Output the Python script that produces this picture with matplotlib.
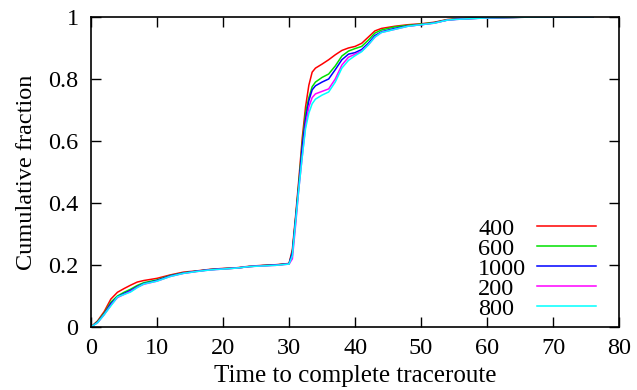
import matplotlib
matplotlib.use("Agg")
import matplotlib.pyplot as plt

x = [0, 1, 2, 3, 4, 5, 6, 7, 8, 10, 12, 14, 16, 18, 20, 22, 24, 26, 28, 30,
     30.5, 31, 31.5, 32, 32.5, 33, 33.5, 34, 35, 36, 37, 38, 39, 40, 41, 42,
     43, 44, 46, 48, 50, 52, 54, 56, 60, 65, 70, 76]

labels = ["400", "600", "1000", "200", "800"]
colors = ["#ff0000", "#00e000", "#0000ff", "#ff00ff", "#00ffff"]

s400 = [0, 0.02, 0.05, 0.09, 0.112, 0.124, 0.135, 0.145, 0.15,
        0.157, 0.168, 0.177, 0.181, 0.186, 0.189, 0.191, 0.196, 0.199, 0.201, 0.205,
        0.25, 0.36, 0.48, 0.61, 0.71, 0.78, 0.822, 0.835,
        0.848, 0.862, 0.878, 0.892, 0.9, 0.905, 0.915, 0.935, 0.955, 0.963,
        0.97, 0.975, 0.978, 0.983, 0.992, 0.995, 0.997, 0.999, 1.0, 1.0]
s600 = [0, 0.018, 0.045, 0.08, 0.1, 0.112, 0.122, 0.134, 0.143,
        0.152, 0.166, 0.175, 0.18, 0.185, 0.188, 0.19, 0.195, 0.198, 0.2, 0.204,
        0.24, 0.35, 0.47, 0.59, 0.69, 0.74, 0.775, 0.79,
        0.805, 0.816, 0.842, 0.874, 0.89, 0.898, 0.905, 0.925, 0.948, 0.958,
        0.968, 0.973, 0.977, 0.982, 0.991, 0.994, 0.997, 0.999, 1.0, 1.0]
s1000 = [0, 0.016, 0.042, 0.075, 0.097, 0.108, 0.118, 0.13, 0.14,
         0.15, 0.165, 0.174, 0.18, 0.185, 0.188, 0.19, 0.195, 0.198, 0.2, 0.204,
         0.24, 0.35, 0.46, 0.58, 0.67, 0.73, 0.765, 0.778,
         0.79, 0.8, 0.83, 0.862, 0.88, 0.885, 0.895, 0.915, 0.94, 0.952,
         0.963, 0.971, 0.975, 0.981, 0.99, 0.994, 0.997, 0.999, 1.0, 1.0]
s200 = [0, 0.014, 0.04, 0.07, 0.095, 0.105, 0.115, 0.128, 0.138,
        0.148, 0.163, 0.173, 0.179, 0.184, 0.187, 0.19, 0.195, 0.197, 0.199, 0.203,
        0.22, 0.33, 0.45, 0.55, 0.65, 0.71, 0.74, 0.752,
        0.76, 0.768, 0.8, 0.845, 0.87, 0.88, 0.89, 0.91, 0.935, 0.95,
        0.96, 0.97, 0.975, 0.98, 0.99, 0.993, 0.997, 0.999, 1.0, 1.0]
s800 = [0, 0.014, 0.04, 0.068, 0.097, 0.105, 0.113, 0.127, 0.139,
        0.148, 0.163, 0.173, 0.179, 0.184, 0.187, 0.19, 0.195, 0.197, 0.199, 0.203,
        0.23, 0.34, 0.45, 0.55, 0.64, 0.69, 0.72, 0.735,
        0.748, 0.758, 0.79, 0.835, 0.86, 0.875, 0.888, 0.91, 0.935, 0.95,
        0.96, 0.97, 0.975, 0.98, 0.99, 0.993, 0.997, 0.999, 1.0, 1.0]
series = [s400, s600, s1000, s200, s800]

xticks = [0, 10, 20, 30, 40, 50, 60, 70, 80]
yticks = [0, 0.2, 0.4, 0.6, 0.8, 1]
yticklabels = ["0", "0.2", "0.4", "0.6", "0.8", "1"]

plt.rcParams["font.family"] = ["Liberation Serif", "DejaVu Serif"]
plt.rcParams["font.size"] = 17.5

fig = plt.figure(figsize=(6.37, 3.9), dpi=100)
ax = fig.add_axes([0.1429, 0.1615, 0.829, 0.795])

for lab, col, ys in zip(labels, colors, series):
    ax.plot(x, ys, color=col, lw=1.1, label=lab)

ax.set_xlim(0, 80)
ax.set_ylim(0, 1)
ax.set_xticks(xticks)
ax.set_yticks(yticks)
ax.set_yticklabels(yticklabels)
ax.tick_params(direction="in", length=7, width=1, top=True, right=True)
ax.tick_params(axis="y", pad=9)
ax.tick_params(axis="x", pad=8)
for sp in ax.spines.values():
    sp.set_linewidth(1.2)

ax.set_xlabel("Time to complete traceroute", fontsize=18, labelpad=4)
ax.set_ylabel("Cumulative fraction", labelpad=8)

# key: label left-aligned, sample line to the right (gnuplot style)
row_top = 0.326
row_step = 0.0645
for i, (lab, col) in enumerate(zip(labels, colors)):
    yy = row_top - i * row_step
    ax.plot([0.845, 0.956], [yy, yy], transform=ax.transAxes, color=col,
            lw=1.1, clip_on=False)
    ax.text(0.733, yy - 0.029, lab, transform=ax.transAxes, ha="left",
            va="baseline", fontsize=17.5)

fig.savefig("out.png", dpi=100)
